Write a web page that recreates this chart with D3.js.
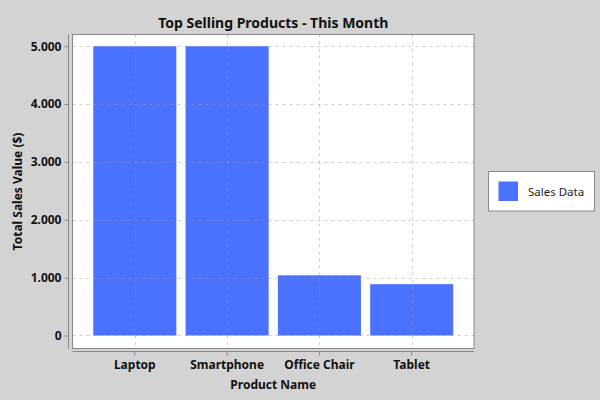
<!DOCTYPE html>
<html>
<head>
<meta charset="utf-8">
<script src="https://cdn.jsdelivr.net/npm/d3@7"></script>
<style>
  body { margin: 0; background: #d3d3d3; }
  svg { display: block; font-family: "Noto Sans", "Open Sans", sans-serif; }
</style>
</head>
<body>
<svg width="600" height="400"></svg>
<script>
const products = ["Laptop", "Smartphone", "Office Chair", "Tablet"];
const salesValues = [5000, 5000, 1040, 887];
const yTicks = [0, 1000, 2000, 3000, 4000, 5000];
const seriesName = "Sales Data";

const width = 600;
const height = 400;
const plot = { left: 72.5, top: 34.5, right: 474, bottom: 348.5 };
const barColor = "#4a72ff";

// german style number format: 5.000
const locale = d3.formatLocale({ decimal: ",", thousands: ".", grouping: [3], currency: ["", "$"] });
const fmt = locale.format(",d");

const svg = d3.select("svg");
svg.append("rect").attr("width", width).attr("height", height).attr("fill", "#d3d3d3");

// scales
const xScale = d3
  .scaleBand()
  .domain(products)
  .range([plot.left, plot.right])
  .paddingInner(0.1)
  .paddingOuter(0.225);

const yScale = d3
  .scaleLinear()
  .domain([-225, 5202])
  .range([plot.bottom, plot.top]);

// plot background
svg
  .append("rect")
  .attr("x", plot.left)
  .attr("y", plot.top)
  .attr("width", plot.right - plot.left)
  .attr("height", plot.bottom - plot.top)
  .attr("fill", "white");

// bars
svg
  .append("g")
  .selectAll("rect")
  .data(products)
  .enter()
  .append("rect")
  .attr("x", d => xScale(d))
  .attr("width", xScale.bandwidth())
  .attr("y", (d, i) => yScale(salesValues[i]))
  .attr("height", (d, i) => yScale(0) - yScale(salesValues[i]))
  .attr("fill", barColor);

// gridlines (on top, faint)
const grid = svg.append("g").attr("stroke", "#999").attr("stroke-opacity", 0.5).attr("stroke-dasharray", "3,4");
grid
  .selectAll(".hgrid")
  .data(yTicks)
  .enter()
  .append("line")
  .attr("x1", plot.left)
  .attr("x2", plot.right)
  .attr("y1", d => Math.round(yScale(d)) + 0.5)
  .attr("y2", d => Math.round(yScale(d)) + 0.5);
grid
  .selectAll(".vgrid")
  .data(products)
  .enter()
  .append("line")
  .attr("y1", plot.top)
  .attr("y2", plot.bottom)
  .attr("x1", d => Math.round(xScale(d) + xScale.bandwidth() / 2) + 0.5)
  .attr("x2", d => Math.round(xScale(d) + xScale.bandwidth() / 2) + 0.5);

// plot border
svg
  .append("rect")
  .attr("x", plot.left)
  .attr("y", plot.top)
  .attr("width", plot.right - plot.left)
  .attr("height", plot.bottom - plot.top)
  .attr("fill", "none")
  .attr("stroke", "#888");

// y axis
const yAxis = d3.axisLeft(yScale).tickValues(yTicks).tickFormat(fmt).tickSizeInner(4).tickSizeOuter(0).tickPadding(3);
const gy = svg.append("g").attr("transform", "translate(68.5,0)").call(yAxis);
gy.select(".domain").attr("stroke", "#888").attr("d", `M0,${plot.top}V${plot.bottom}`);
gy.selectAll(".tick line").attr("stroke", "#888");
gy.selectAll(".tick text")
  .attr("fill", "#111")
  .style("font-size", "12px")
  .style("font-weight", "bold")
  .style("font-family", "'Noto Sans', sans-serif");

// x axis
const xAxis = d3.axisBottom(xScale).tickSizeInner(4).tickSizeOuter(0).tickPadding(5);
const gx = svg.append("g").attr("transform", "translate(0,351.5)").call(xAxis);
gx.select(".domain").attr("stroke", "#888").attr("d", `M${plot.left},0H${plot.right}`);
gx.selectAll(".tick line").attr("stroke", "#888");
gx.selectAll(".tick text")
  .attr("fill", "#111")
  .style("font-size", "12px")
  .style("font-weight", "bold")
  .style("font-family", "'Noto Sans', sans-serif");

// title
svg
  .append("text")
  .attr("x", (plot.left + plot.right) / 2)
  .attr("y", 28)
  .attr("text-anchor", "middle")
  .style("font-size", "14px")
  .style("font-weight", "bold")
  .attr("fill", "#111")
  .text("Top Selling Products - This Month");

// axis labels
svg
  .append("text")
  .attr("x", (plot.left + plot.right) / 2)
  .attr("y", 389)
  .attr("text-anchor", "middle")
  .style("font-size", "12px")
  .style("font-weight", "bold")
  .attr("fill", "#111")
  .text("Product Name");

svg
  .append("text")
  .attr("transform", `translate(22,${(plot.top + plot.bottom) / 2}) rotate(-90)`)
  .attr("text-anchor", "middle")
  .style("font-size", "12px")
  .style("font-weight", "bold")
  .attr("fill", "#111")
  .text("Total Sales Value ($)");

// legend
const legend = svg.append("g");
legend
  .append("rect")
  .attr("x", 488.5)
  .attr("y", 171.5)
  .attr("width", 106)
  .attr("height", 39.5)
  .attr("fill", "white")
  .attr("stroke", "#888");
legend
  .append("rect")
  .attr("x", 498.5)
  .attr("y", 181.5)
  .attr("width", 19.5)
  .attr("height", 19.5)
  .attr("fill", barColor);
legend
  .append("text")
  .attr("x", 528)
  .attr("y", 195.5)
  .style("font-size", "11.5px")
  .attr("fill", "#222")
  .text(seriesName);
</script>
</body>
</html>
